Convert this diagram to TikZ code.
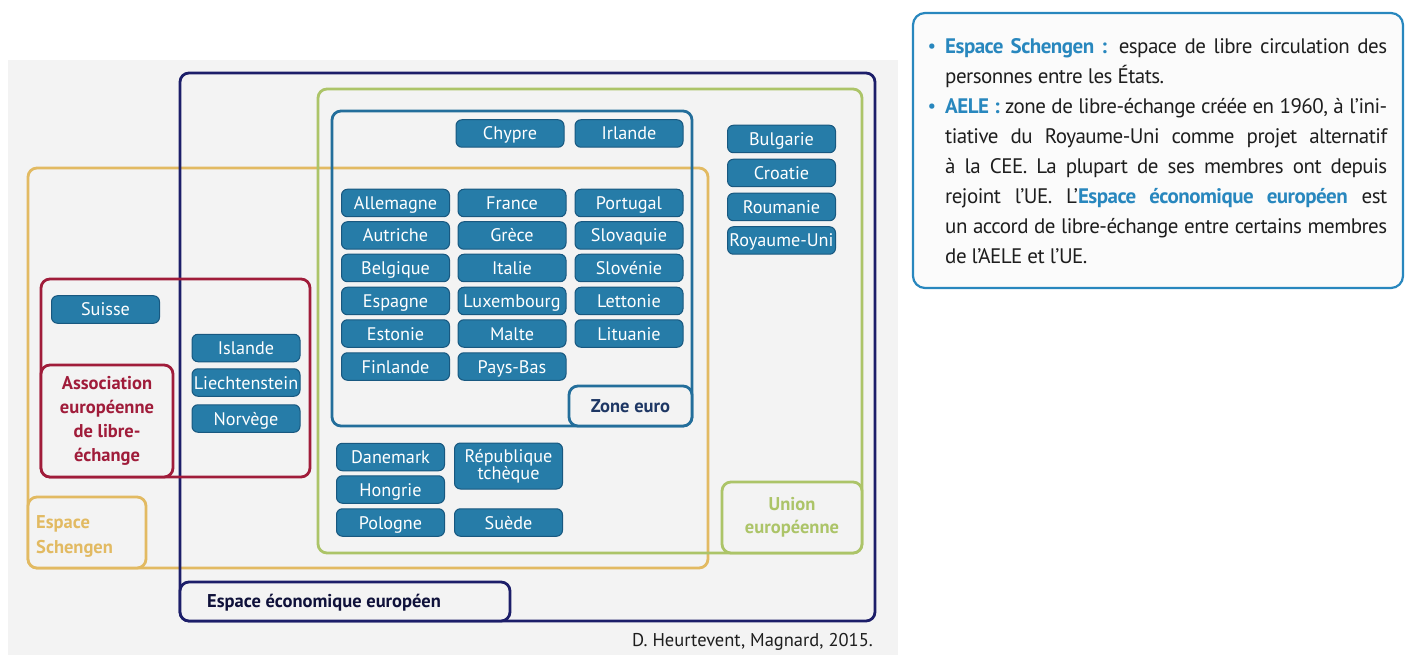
\documentclass[tikz,border=0pt]{standalone}
\usepackage{fontspec}
\setmainfont{PT Sans}
\definecolor{cbox}{RGB}{38,124,168}
\definecolor{cboxd}{RGB}{24,88,128}
\definecolor{navy}{RGB}{28,30,105}
\definecolor{ugreen}{RGB}{172,196,104}
\definecolor{syellow}{RGB}{226,186,98}
\definecolor{ared}{RGB}{160,28,58}
\definecolor{zblue}{RGB}{35,110,155}
\definecolor{zlabel}{RGB}{30,55,100}
\definecolor{pblue}{RGB}{40,135,190}
\definecolor{scan}{RGB}{243,243,243}
\definecolor{ink}{RGB}{30,30,30}
\begin{document}
\begin{tikzpicture}[x=1pt,y=-1pt,
  country/.style={draw=cboxd, line width=1pt, fill=cbox, rounded corners=6pt, text=white,
    minimum width=108pt, minimum height=27.5pt, inner sep=0pt,
    text height=14.6pt, text depth=1.6pt,
    font=\fontsize{18.2}{17}\selectfont, align=center},
  region/.style={line width=2.8pt, rounded corners=9pt, anchor=north west, inner sep=0pt, outer sep=0pt},
  tag/.style={region, fill=scan, align=center, font=\bfseries\fontsize{18.5}{24}\selectfont},
  legline/.style={anchor=base west, inner sep=0pt, text=ink, font=\fontsize{21}{20}\selectfont\addfontfeature{LetterSpace=-2.5}},
  bul/.style={anchor=base, inner sep=0pt, text=pblue, font=\fontsize{19}{20}\selectfont}
  ]
\useasboundingbox (0,0) rectangle (1408,660);
\fill[scan] (8,60) rectangle (898,655);

% regions
\node[region, draw=syellow, minimum width=680pt, minimum height=400pt] (schengen) at (28,168) {};
\node[region, draw=ugreen, minimum width=544pt, minimum height=464pt] (ue) at (318,89) {};
\node[region, draw=zblue, minimum width=360pt, minimum height=315pt] (euro) at (332,111) {};
\node[region, draw=navy, minimum width=695pt, minimum height=548pt] (eee) at (180,73) {};
\node[region, draw=ared, minimum width=269pt, minimum height=198pt] (aele) at (41,279) {};

% tags
\node[tag, draw=syellow, minimum width=118pt, minimum height=71pt] (schtag) at (28,497) {};
\node[anchor=west, inner sep=0pt, align=left, text=syellow, font=\bfseries\fontsize{18.5}{25}\selectfont] (schtext) at (36,536) {Espace\\Schengen};
\node[tag, draw=ared, text=ared, minimum width=132pt, minimum height=112pt] (aeletag) at (41,365) {Association\\européenne\\de libre-\\échange};
\node[tag, draw=zblue, text=zlabel, minimum width=123pt, minimum height=40pt] (eurotag) at (569,386) {Zone euro};
\node[tag, draw=ugreen, text=ugreen, minimum width=140pt, minimum height=71pt, font=\bfseries\fontsize{18.5}{23}\selectfont] (uetag) at (722,482) {Union\\européenne};
\node[tag, draw=navy, minimum width=330pt, minimum height=39pt] (eeetag) at (180,582) {};
\node[anchor=west, inner sep=0pt, text=navy!55!black, font=\bfseries\fontsize{18.5}{20}\selectfont] (eeetext) at (207,603) {Espace économique européen};

% countries
\node[country] (suisse) at (105.5,309.5) {Suisse};
\node[country] (islande) at (246,348) {Islande};
\node[country] (liecht) at (246,382.5) {Liechtenstein};
\node[country] (norvege) at (246,418.5) {Norvège};

\node[country] (chypre) at (510,133.5) {Chypre};
\node[country] (irlande) at (629,133.5) {Irlande};

\node[country] (allemagne) at (395.5,203) {Allemagne};
\node[country] (autriche) at (395.5,235.5) {Autriche};
\node[country] (belgique) at (395.5,268) {Belgique};
\node[country] (espagne) at (395.5,301) {Espagne};
\node[country] (estonie) at (395.5,333.5) {Estonie};
\node[country] (finlande) at (395.5,366.5) {Finlande};

\node[country] (france) at (512,203) {France};
\node[country] (grece) at (512,235.5) {Grèce};
\node[country] (italie) at (512,268) {Italie};
\node[country] (luxembourg) at (512,301) {Luxembourg};
\node[country] (malte) at (512,333.5) {Malte};
\node[country] (paysbas) at (512,366.5) {Pays-Bas};

\node[country] (portugal) at (629,203) {Portugal};
\node[country] (slovaquie) at (629,235.5) {Slovaquie};
\node[country] (slovenie) at (629,268) {Slovénie};
\node[country] (lettonie) at (629,301) {Lettonie};
\node[country] (lituanie) at (629,333.5) {Lituanie};

\node[country] (danemark) at (390.5,457) {Danemark};
\node[country] (hongrie) at (390.5,489.5) {Hongrie};
\node[country] (pologne) at (390.5,522.5) {Pologne};
\node[country, minimum height=46pt, text height=, text depth=] (tcheque) at (508.5,466) {République\\tchèque};
\node[country] (suede) at (508.5,522.5) {Suède};

\node[country] (bulgarie) at (781.5,139) {Bulgarie};
\node[country] (croatie) at (781.5,173) {Croatie};
\node[country] (roumanie) at (781.5,207) {Roumanie};
\node[country] (ru) at (781.5,240.5) {Royaume-Uni};

% caption
\node[anchor=base east, inner sep=0pt, text=ink, font=\fontsize{18.5}{18}\selectfont] (caption) at (873,646) {D. Heurtevent, Magnard, 2015.};

% legend panel
\node[region, draw=pblue, line width=2.2pt, rounded corners=12pt, fill=white!97!gray, minimum width=490pt, minimum height=275pt] (legend) at (913,13) {};
\node[bul] (b1) at (932,53) {•};
\node[legline] (l1) at (945,54) {\makebox[442pt][s]{{\color{pblue}\bfseries Espace Schengen~:} espace de libre circulation des}};
\node[legline] (l2) at (945,84) {personnes entre les États.};
\node[bul] (b2) at (932,113) {•};
\node[legline] (l3) at (945,114) {\makebox[442pt][s]{{\color{pblue}\bfseries AELE~:} zone de libre-échange créée en 1960, à l’ini-}};
\node[legline] (l4) at (945,144) {\makebox[442pt][s]{tiative du Royaume-Uni comme projet alternatif}};
\node[legline] (l5) at (945,174) {\makebox[442pt][s]{à la CEE. La plupart de ses membres ont depuis}};
\node[legline] (l6) at (945,204) {\makebox[442pt][s]{rejoint l’UE. L’{\color{pblue}\bfseries Espace économique européen} est}};
\node[legline] (l7) at (945,234) {\makebox[442pt][s]{un accord de libre-échange entre certains membres}};
\node[legline] (l8) at (945,264) {de l’AELE et l’UE.};
\end{tikzpicture}
\end{document}
